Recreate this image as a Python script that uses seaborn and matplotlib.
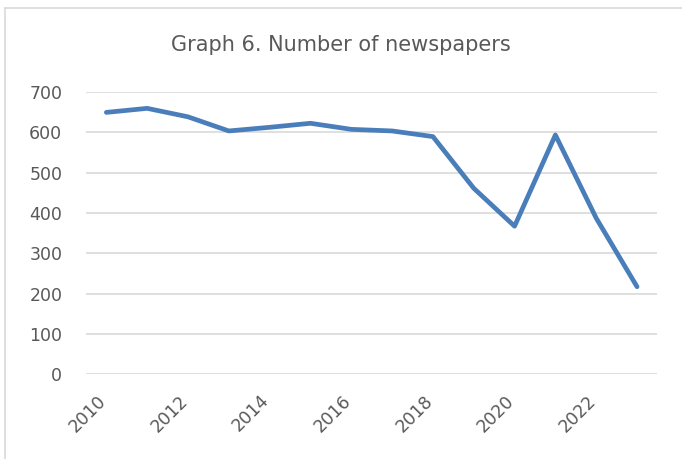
import matplotlib
matplotlib.use("Agg")
from matplotlib import pyplot as plt
from matplotlib.lines import Line2D
import matplotlib.transforms as mtrans
import pandas as pd
import seaborn as sns

# values
years = [2010, 2011, 2012, 2013, 2014, 2015, 2016, 2017, 2018, 2019, 2020, 2021, 2022, 2023]
newspapers = [649, 659, 638, 603, 612, 622, 607, 603, 589, 461, 367, 593, 387, 217]
tick_years = [2010, 2012, 2014, 2016, 2018, 2020, 2022]
y_ticks = [0, 100, 200, 300, 400, 500, 600, 700]

df = pd.DataFrame({'year': years, 'count': newspapers})

sns.set_theme(style='white')
plt.rcParams['font.family'] = ['DejaVu Sans']

fig = plt.figure(figsize=(6.82, 4.59), dpi=100)
ax = fig.add_axes([0.126, 0.1845, 0.838, 0.6155])

sns.lineplot(data=df, x='year', y='count', ax=ax, color='#4a7ebb', linewidth=3.4,
             solid_joinstyle='round', solid_capstyle='round')

ax.set_xlim(2009.5, 2023.5)
ax.set_ylim(0, 700)
ax.set_yticks(y_ticks)
ax.set_xticks(tick_years)
ax.set_xticklabels([str(y) for y in tick_years], rotation=45, ha='right',
                   va='center', rotation_mode='anchor')
ax.tick_params(axis='both', length=0, labelsize=12.5, labelcolor='#595959')
ax.tick_params(axis='x', pad=17)
ax.tick_params(axis='y', pad=17)

# nudge the rotated year labels a little to the left
shift = mtrans.ScaledTranslation(-3 / 100, 0, fig.dpi_scale_trans)
for lbl in ax.get_xticklabels():
    lbl.set_transform(lbl.get_transform() + shift)

ax.grid(axis='y', color='#d9d9d9', linewidth=1.2)
ax.set_axisbelow(True)
for s in ax.spines.values():
    s.set_visible(False)
ax.set_xlabel('')
ax.set_ylabel('')

fig.text(0.5, 0.903, 'Graph 6. Number of newspapers', ha='center', va='center',
         fontsize=15, color='#595959')

# chart frame
fig.add_artist(Line2D([0.007, 0.007], [0, 0.982], transform=fig.transFigure, color='#d9d9d9', linewidth=1.2))
fig.add_artist(Line2D([0.007, 1.0], [0.982, 0.982], transform=fig.transFigure, color='#d9d9d9', linewidth=1.2))

fig.savefig('out.png', dpi=100)
